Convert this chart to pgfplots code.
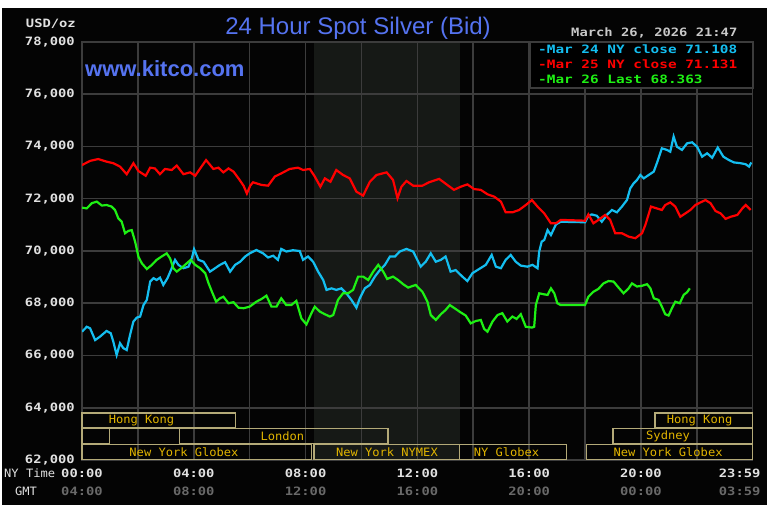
\documentclass[border=0pt]{standalone}
\usepackage{pgfplots}
\pgfplotsset{compat=1.18}
\usepackage{fontspec}
\setmainfont{Liberation Sans}
\newfontfamily\pix[FakeStretch=1.2]{DejaVu Sans Mono}
\newfontfamily\pixl[FakeStretch=1.25]{DejaVu Sans Mono}
\newfontfamily\pixs[FakeStretch=1.05]{DejaVu Sans Mono}
\definecolor{panel}{RGB}{4,4,4}
\definecolor{gridgray}{RGB}{60,60,60}
\definecolor{nymex}{RGB}{22,25,22}
\definecolor{ccyan}{RGB}{20,190,240}
\definecolor{cred}{RGB}{255,0,0}
\definecolor{cgreen}{RGB}{30,240,20}
\definecolor{boxline}{RGB}{180,170,120}
\definecolor{boxtext}{RGB}{225,180,0}
\definecolor{titleblue}{RGB}{85,115,240}
\definecolor{dategray}{RGB}{200,200,200}
\definecolor{ticklab}{RGB}{225,225,225}
\definecolor{gmtgray}{RGB}{105,105,105}
\begin{document}
\begin{tikzpicture}[x=1pt,y=1pt]
\fill[white] (0,0) rectangle (770,514);
\fill[panel] (2,9) rectangle (767,506);
% NYMEX session shading (8:20 - 13:30)
\fill[nymex] (313.95,54) rectangle (460.1,472);
\begin{axis}[
  at={(82pt,54pt)}, anchor=south west,
  scale only axis, width=670.7pt, height=418pt,
  xmin=0, xmax=24, ymin=62000, ymax=78000,
  clip mode=individual,
  scaled y ticks=false,
  xtick={0,2,...,24}, xticklabels={},
  ytick={62000,64000,66000,68000,70000,72000,74000,76000,78000},
  yticklabels={{62,000},{64,000},{66,000},{68,000},{70,000},{72,000},{74,000},{76,000},{78,000}},
  yticklabel style={font=\pix\bfseries\fontsize{11.5}{12}\selectfont, text=ticklab, anchor=east, inner sep=0pt, xshift=-7pt},
  grid=major, major grid style={gridgray, line width=1.5pt},
  axis line style={gridgray, line width=1.5pt},
  tick style={draw=none},
]

\addplot[ccyan, line width=2.2pt] coordinates {
(0,66910)(0.17,67100)(0.29,67040)(0.47,66590)(0.64,66720)(0.88,66940)(1.03,66850)(1.12,66530)(1.24,66020)(1.36,66470)(1.48,66280)(1.6,66210)(1.72,66790)(1.84,67300)(1.96,67450)(2.08,67490)(2.2,67930)(2.32,68130)(2.44,68830)(2.56,68960)(2.67,68890)(2.79,68980)(2.91,68700)(3.06,68960)(3.21,69340)(3.33,69660)(3.45,69470)(3.63,69340)(3.81,69400)(3.93,69720)(4.01,70070)(4.17,69660)(4.35,69590)(4.58,69210)(4.76,69340)(4.94,69470)(5.12,69570)(5.3,69210)(5.48,69470)(5.66,69590)(5.84,69790)(6.0,69910)(6.24,70040)(6.48,69910)(6.66,69750)(6.84,69820)(7.01,69660)(7.13,70080)(7.31,69980)(7.55,70030)(7.79,70000)(7.91,69660)(8.09,69790)(8.27,69590)(8.45,69210)(8.63,68890)(8.75,68510)(8.93,68570)(9.1,68510)(9.28,68570)(9.46,68380)(9.64,68130)(9.82,67830)(9.94,68190)(10.12,68570)(10.3,68700)(10.48,69020)(10.66,69270)(10.84,69470)(11.02,69790)(11.2,69790)(11.37,69980)(11.61,70080)(11.85,69980)(12.12,69400)(12.3,69590)(12.48,69910)(12.66,69590)(12.84,69660)(13.01,69790)(13.19,69210)(13.37,69270)(13.61,69020)(13.79,68850)(13.97,69150)(14.21,69310)(14.45,69470)(14.66,69850)(14.81,69400)(14.99,69340)(15.16,69660)(15.34,69850)(15.52,69590)(15.7,69440)(15.94,69400)(16.12,69470)(16.3,69340)(16.36,69980)(16.45,70360)(16.54,70420)(16.66,70800)(16.78,70610)(16.96,71020)(17.13,71120)(18.0,71100)(18.12,71350)(18.24,71400)(18.42,71350)(18.6,71120)(18.78,71380)(18.96,71570)(19.14,71480)(19.32,71700)(19.5,71950)(19.62,72400)(19.74,72590)(19.86,72720)(19.98,72910)(20.1,72780)(20.28,72910)(20.46,73040)(20.57,73360)(20.75,73930)(20.93,73870)(21.05,73800)(21.17,74380)(21.29,73990)(21.47,73870)(21.65,74120)(21.83,74160)(22.01,73990)(22.19,73610)(22.37,73740)(22.55,73570)(22.75,73960)(22.95,73610)(23.15,73480)(23.33,73390)(23.57,73360)(23.75,73320)(23.87,73230)(23.95,73390)
};

\addplot[cred, line width=2.2pt] coordinates {
(0,73290)(0.29,73450)(0.58,73520)(0.88,73420)(1.12,73360)(1.36,73230)(1.6,72940)(1.84,73360)(2.02,73060)(2.28,72880)(2.44,73190)(2.61,73160)(2.79,72940)(2.97,73140)(3.21,73100)(3.39,73270)(3.63,72940)(3.87,73010)(4.05,72880)(4.23,73160)(4.44,73480)(4.7,73140)(4.88,73190)(5.06,73010)(5.24,73160)(5.42,73040)(5.6,72780)(5.78,72500)(5.9,72200)(6.02,72500)(6.12,72630)(6.42,72530)(6.66,72500)(6.9,72850)(7.13,72970)(7.43,73140)(7.73,73190)(7.91,73100)(8.15,73140)(8.33,72850)(8.53,72460)(8.69,72780)(8.89,72650)(9.1,73100)(9.34,72910)(9.58,72780)(9.82,72270)(10.06,72120)(10.3,72650)(10.54,72910)(10.9,73010)(11.13,72720)(11.29,72020)(11.43,72460)(11.61,72680)(11.85,72500)(12.18,72500)(12.42,72630)(12.78,72760)(13.07,72530)(13.31,72340)(13.55,72460)(13.79,72550)(14.03,72370)(14.27,72340)(14.51,72170)(14.75,72080)(14.99,71890)(15.16,71480)(15.4,71480)(15.64,71570)(15.88,71760)(16.1,71950)(16.3,71700)(16.54,71440)(16.78,71060)(16.96,71060)(17.13,71190)(18.0,71160)(18.12,71400)(18.3,71060)(18.48,71190)(18.72,71380)(18.9,71190)(19.08,70680)(19.32,70680)(19.56,70550)(19.8,70490)(20.04,70680)(20.16,71000)(20.36,71700)(20.57,71630)(20.75,71570)(20.87,71760)(21.05,71860)(21.23,71700)(21.41,71310)(21.59,71440)(21.77,71570)(21.95,71760)(22.13,71860)(22.31,71950)(22.49,71830)(22.67,71530)(22.85,71440)(23.03,71230)(23.21,71310)(23.45,71380)(23.63,71630)(23.75,71760)(23.93,71570)
};

\addplot[cgreen, line width=2.2pt] coordinates {
(0,71660)(0.17,71630)(0.35,71830)(0.53,71890)(0.71,71740)(0.88,71760)(1.06,71700)(1.18,71570)(1.3,71250)(1.42,71120)(1.54,70680)(1.66,70770)(1.78,70800)(1.9,70360)(2.02,69780)(2.14,69530)(2.32,69310)(2.5,69470)(2.67,69660)(2.85,69790)(3.03,69910)(3.15,69720)(3.27,69340)(3.39,69210)(3.57,69360)(3.75,69530)(3.89,69660)(4.05,69470)(4.23,69340)(4.41,69150)(4.53,68760)(4.65,68440)(4.8,68060)(4.94,68190)(5.06,68250)(5.24,68000)(5.42,68040)(5.6,67830)(5.78,67810)(6.0,67870)(6.24,68060)(6.42,68160)(6.6,68290)(6.78,67870)(6.96,67870)(7.13,68190)(7.31,67930)(7.49,67930)(7.67,68090)(7.85,67420)(8.03,67190)(8.21,67620)(8.33,67870)(8.51,67680)(8.69,67580)(8.87,67490)(8.99,67550)(9.16,68130)(9.34,68380)(9.52,68380)(9.7,68510)(9.88,69020)(10.06,69020)(10.24,68890)(10.42,69210)(10.6,69470)(10.78,69210)(10.92,68930)(11.13,69020)(11.31,68890)(11.49,68730)(11.67,68600)(11.94,68700)(12.18,68440)(12.36,68060)(12.48,67550)(12.66,67360)(12.84,67580)(13.01,67740)(13.16,67930)(13.37,67780)(13.55,67650)(13.73,67530)(13.91,67230)(14.09,67320)(14.27,67360)(14.39,67020)(14.51,66910)(14.69,67300)(14.87,67550)(15.04,67620)(15.22,67300)(15.4,67490)(15.55,67400)(15.7,67580)(15.88,67100)(16.1,67070)(16.18,67100)(16.24,67930)(16.36,68380)(16.54,68340)(16.66,68320)(16.78,68570)(16.9,68380)(17.01,68000)(17.13,67930)(18.0,67930)(18.12,68250)(18.3,68440)(18.48,68550)(18.66,68760)(18.84,68850)(19.02,68830)(19.2,68600)(19.38,68380)(19.56,68570)(19.68,68760)(19.86,68640)(20.04,68670)(20.22,68730)(20.34,68570)(20.46,68190)(20.63,68130)(20.75,67870)(20.87,67580)(20.99,67530)(21.11,67810)(21.23,68060)(21.39,68000)(21.53,68320)(21.65,68420)(21.75,68570)
};

% session boxes
\begin{scope}[boxline, line width=1.3pt]
\draw (axis cs:0,63230) rectangle (axis cs:5.5,63800);
\draw (axis cs:20.5,63230) rectangle (axis cs:24,63800);
\draw (axis cs:0,62620) rectangle (axis cs:0.98,63200);
\draw (axis cs:3.48,62620) rectangle (axis cs:10.95,63200);
\draw (axis cs:19.0,62620) rectangle (axis cs:24,63200);
\draw (axis cs:0,62020) rectangle (axis cs:8.22,62590);
\draw (axis cs:8.3,62020) rectangle (axis cs:13.5,62590);
\draw (axis cs:13.5,62020) rectangle (axis cs:17.34,62590);
\draw (axis cs:18.06,62020) rectangle (axis cs:24,62590);
\end{scope}
\begin{scope}[every node/.style={text=boxtext, inner sep=0pt, font=\pixs\fontsize{11.5}{12}\selectfont}]
\node at (axis cs:2.13,63515) {Hong Kong};
\node at (axis cs:22.1,63515) {Hong Kong};
\node at (axis cs:7.17,62910) {London};
\node at (axis cs:20.97,62910) {Sydney};
\node at (axis cs:3.65,62305) {New York Globex};
\node at (axis cs:10.91,62305) {New York NYMEX};
\node at (axis cs:15.19,62305) {NY Globex};
\node at (axis cs:20.97,62305) {New York Globex};
\end{scope}

% x tick labels: NY time and GMT
\begin{scope}[every node/.style={anchor=base, inner sep=0pt, font=\pix\bfseries\fontsize{11.5}{12}\selectfont}]
\node[text=ticklab, yshift=-17.5pt] at (axis cs:0,62000) {00:00};
\node[text=ticklab, yshift=-17.5pt] at (axis cs:4,62000) {04:00};
\node[text=ticklab, yshift=-17.5pt] at (axis cs:8,62000) {08:00};
\node[text=ticklab, yshift=-17.5pt] at (axis cs:12,62000) {12:00};
\node[text=ticklab, yshift=-17.5pt] at (axis cs:16,62000) {16:00};
\node[text=ticklab, yshift=-17.5pt] at (axis cs:20,62000) {20:00};
\node[text=ticklab, yshift=-17.5pt, xshift=-13pt] at (axis cs:24,62000) {23:59};
\node[text=gmtgray, yshift=-35pt] at (axis cs:0,62000) {04:00};
\node[text=gmtgray, yshift=-35pt] at (axis cs:4,62000) {08:00};
\node[text=gmtgray, yshift=-35pt] at (axis cs:8,62000) {12:00};
\node[text=gmtgray, yshift=-35pt] at (axis cs:12,62000) {16:00};
\node[text=gmtgray, yshift=-35pt] at (axis cs:16,62000) {20:00};
\node[text=gmtgray, yshift=-35pt] at (axis cs:20,62000) {00:00};
\node[text=gmtgray, yshift=-35pt, xshift=-13pt] at (axis cs:24,62000) {03:59};
\end{scope}
\end{axis}

% legend
\fill[black] (530,426) rectangle (753,472);
\draw[gridgray, line width=1.5pt] (530,426) rectangle (753,472);
\begin{scope}[every node/.style={anchor=base west, inner sep=0pt, font=\pixl\bfseries\fontsize{11.5}{12}\selectfont}]
\node[text=ccyan] at (538,460) {-Mar 24 NY close 71.108};
\node[text=cred] at (538,445.5) {-Mar 25 NY close 71.131};
\node[text=cgreen] at (538,430) {-Mar 26 Last 68.363};
\end{scope}
\begin{scope}[every node/.style={anchor=base west, inner sep=0pt, font=\pix\bfseries\fontsize{11.5}{12}\selectfont}]
\node[text=dategray] at (571,477) {March 26, 2026 21:47};
\node[text=ticklab, anchor=base east] at (76,486) {USD/oz};
\end{scope}
\begin{scope}[every node/.style={anchor=base west, inner sep=0pt, font=\pixs\fontsize{11.5}{12}\selectfont}]
\node[text=ticklab] at (4,36.5) {NY Time};
\node[text=ticklab] at (15,19) {GMT};
\end{scope}

\node[anchor=base, inner sep=0pt, text=titleblue, font=\fontsize{24}{26}\selectfont] at (358,479) {24 Hour Spot Silver (Bid)};
\node[anchor=base west, inner sep=0pt, text=titleblue, font=\bfseries\fontsize{22}{24}\selectfont] at (85,437) {www.kitco.com};
\end{tikzpicture}
\end{document}
